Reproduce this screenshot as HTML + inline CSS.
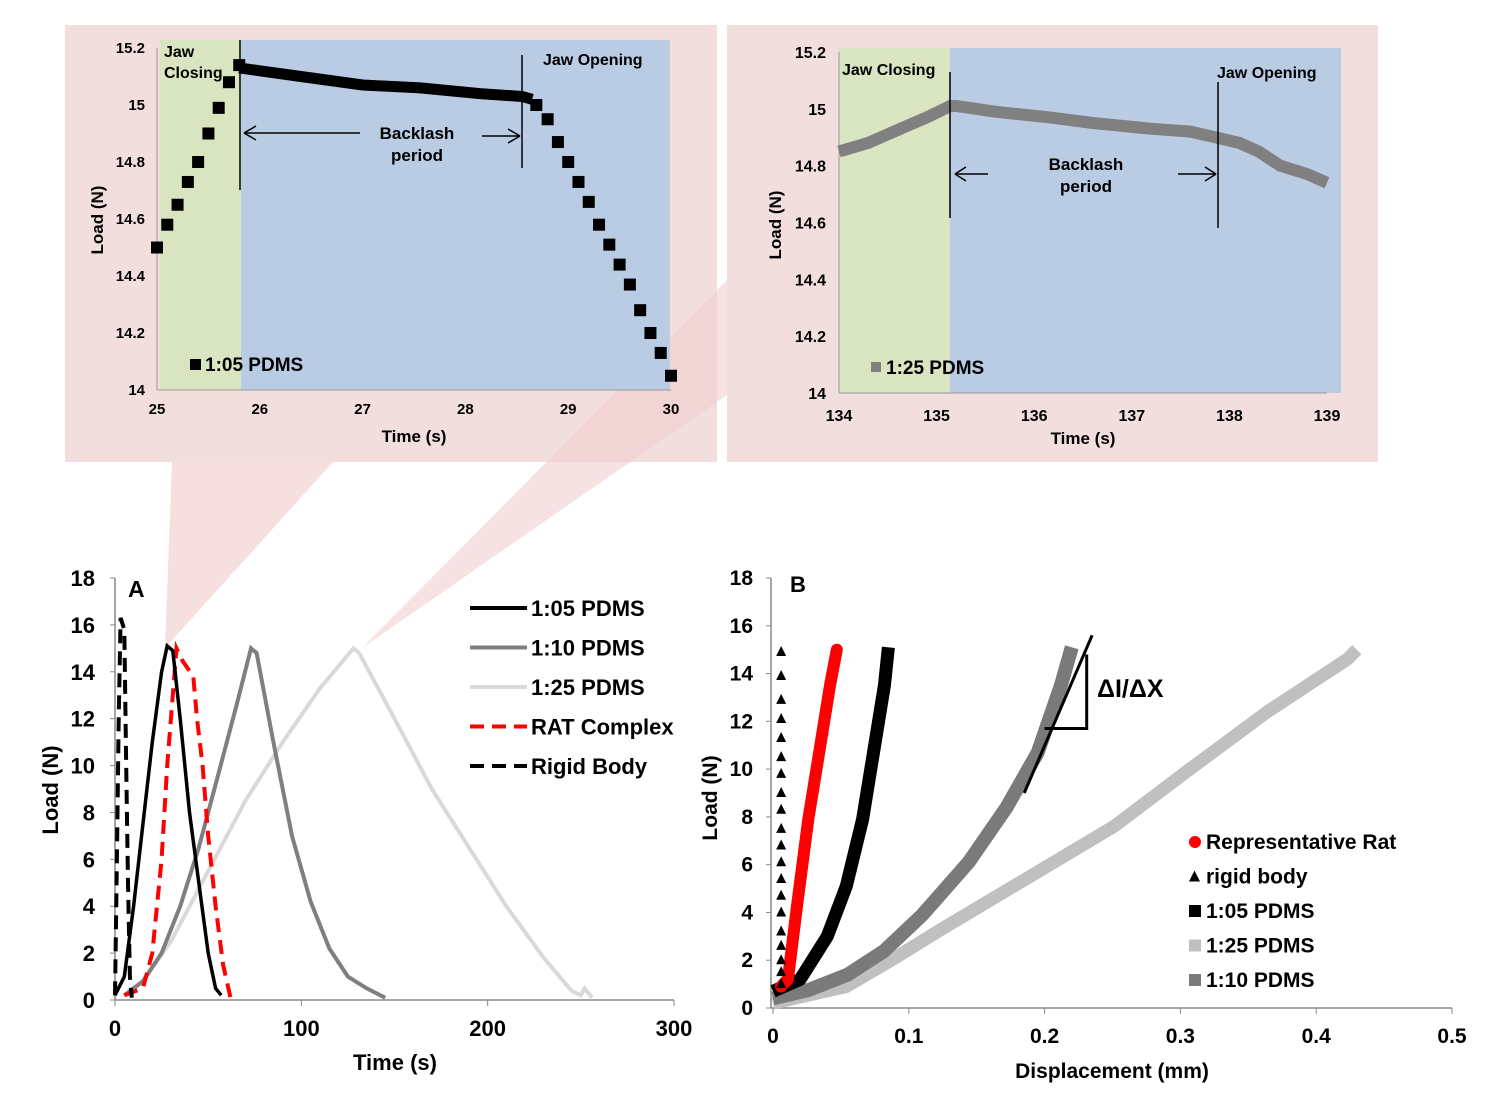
<!DOCTYPE html>
<html><head><meta charset="utf-8"><style>
html,body{margin:0;padding:0;background:#fff}
svg{display:block;font-family:"Liberation Sans",Arial,sans-serif;font-weight:bold}
</style></head><body>
<svg id="fig" width="1500" height="1097" viewBox="0 0 1500 1097" xmlns="http://www.w3.org/2000/svg">
<rect x="65" y="25" width="652" height="437" fill="#f3dede"/>
<rect x="727" y="25" width="651" height="437" fill="#f3dede"/>
<polygon points="172,462 333,462 165,648" fill="#f2d4d4" opacity="0.75"/>
<polygon points="727,280 727,395 362,648" fill="#f0cfcf" opacity="0.6"/>
<g id="g"></g>
</svg>
<script>
// ---- inset 1 data (1:05 PDMS) ----
const in1Time = [25.0,25.1,25.2,25.3,25.4,25.5,25.6,25.7,25.8,28.69,28.8,28.9,29.0,29.1,29.2,29.3,29.4,29.5,29.6,29.7,29.8,29.9,30.0];
const in1Load = [14.5,14.58,14.65,14.73,14.8,14.9,14.99,15.08,15.14,15.0,14.95,14.87,14.8,14.73,14.66,14.58,14.51,14.44,14.37,14.28,14.2,14.13,14.05];
const in1FlatTime = [25.8,26.0,26.4,27.0,27.56,28.14,28.55,28.65];
const in1FlatLoad = [15.13,15.12,15.1,15.07,15.06,15.04,15.03,15.02];
const in1XTicks = [25,26,27,28,29,30];
const in1YTicks = [14,14.2,14.4,14.6,14.8,15,15.2];
// ---- inset 2 data (1:25 PDMS) ----
const in2Time = [134.0,134.3,134.63,134.9,135.14,135.2,135.6,136.16,136.6,137.19,137.6,137.85,138.1,138.3,138.52,138.8,139.0];
const in2Load = [14.85,14.88,14.93,14.97,15.01,15.01,14.99,14.97,14.95,14.93,14.92,14.9,14.88,14.85,14.8,14.77,14.74];
const in2XTicks = [134,135,136,137,138,139];
// ---- chart A ----
const aXTicks = [0,100,200,300];
const aYTicks = [0,2,4,6,8,10,12,14,16,18];
const a105T = [0,5,10,15,20,25,28,31,35,40,45,50,54,57];
const a105L = [0.2,1,4,7.5,11,14,15.1,14.9,12,8,5,2,0.5,0.2];
const a110T = [5,15,25,35,45,55,65,73,76,85,95,105,115,125,135,145];
const a110L = [0.2,0.8,2,4,6.5,9.5,12.5,15,14.8,11,7,4.2,2.2,1,0.5,0.1];
const a125T = [5,15,30,50,70,90,110,128,131,150,170,190,210,230,245,250,252,256];
const a125L = [0.2,0.8,2.5,5.5,8.5,11,13.3,15,14.8,12,9,6.5,4,1.8,0.4,0.2,0.5,0.1];
const aRatT = [5,15,20,25,28,31,33,36,42,44,47,50,54,58,62];
const aRatL = [0.2,0.5,2,6,10,13,15,14.5,13.8,12,10,7,4,1.5,0.1];
const aRigT = [0,1,2,3,5,6,7,8,9];
const aRigL = [0.2,6,12,16.3,15.8,10,5,1,0.1];
// ---- chart B ----
const bXTicks = [0,0.1,0.2,0.3,0.4,0.5];
const bYTicks = [0,2,4,6,8,10,12,14,16,18];
const bRatX = [0.006,0.011,0.018,0.026,0.034,0.042,0.047];
const bRatY = [0.9,1.2,4.4,7.9,10.7,13.5,15];
const bRigY = [1,1.5,2,2.6,3.2,4,4.7,5.4,6.1,6.8,7.5,8.3,9,9.8,10.5,11.3,12.1,12.9,13.9,14.9];
const bRigX = 0.006;
const b105X = [0,0.02,0.04,0.054,0.066,0.074,0.082,0.085];
const b105Y = [0.7,1.2,3.0,5.1,7.9,10.7,13.5,15.1];
const b110X = [0,0.026,0.055,0.082,0.11,0.144,0.172,0.195,0.212,0.22];
const b110Y = [0.4,0.75,1.4,2.4,3.9,6.1,8.4,10.7,13.5,15.1];
const b125X = [0,0.054,0.09,0.124,0.195,0.251,0.307,0.364,0.423,0.43];
const b125Y = [0.2,0.9,2.1,3.3,5.7,7.6,10.0,12.4,14.6,15];

const NS="http://www.w3.org/2000/svg";
const G=document.getElementById('g');
function el(tag,attrs,parent,text){const e=document.createElementNS(NS,tag);for(const k in attrs)e.setAttribute(k,attrs[k]);if(text!==undefined)e.textContent=text;(parent||G).appendChild(e);return e;}
function lin(d0,d1,r0,r1){return v=>r0+(v-d0)*(r1-r0)/(d1-d0);}
function pts(xs,ys,sx,sy){return xs.map((x,i)=>sx(x).toFixed(1)+','+sy(ys[i]).toFixed(1)).join(' ');}

// ===== Inset 1 =====
{
const sx=lin(25,30,157,671), sy=lin(14,15.2,390,48);
let e;
e=el('rect',{x:160,y:40,width:81,height:350,fill:'#d9e5c0'});


e=el('rect',{x:241,y:40,width:429,height:350,fill:'#b9cce4'});


el('line',{x1:157,y1:48,x2:157,y2:390,stroke:'#999','stroke-width':1});
el('line',{x1:157,y1:390,x2:671,y2:390,stroke:'#999','stroke-width':1});
in1YTicks.forEach(v=>{e=el('text',{x:145,y:sy(v)+5,'font-size':15,'text-anchor':'end'},G,String(v));

});
in1XTicks.forEach(v=>{e=el('text',{x:sx(v),y:414,'font-size':15,'text-anchor':'middle'},G,String(v));

});
e=el('text',{x:414,y:442,'font-size':17,'text-anchor':'middle'},G,'Time (s)');


e=el('text',{x:103,y:220,'font-size':17,'text-anchor':'middle',transform:'rotate(-90 103 220)'},G,'Load (N)');


e=el('polyline',{points:pts(in1FlatTime,in1FlatLoad,sx,sy),fill:'none',stroke:'#000','stroke-width':11});


in1Time.forEach((t,i)=>{e=el('rect',{x:sx(t)-6,y:sy(in1Load[i])-6,width:12,height:12,fill:'#000'});

});
el('line',{x1:240,y1:40,x2:240,y2:190,stroke:'#000','stroke-width':1.5});
el('line',{x1:522,y1:55,x2:522,y2:168,stroke:'#000','stroke-width':1.5});
el('path',{d:'M244,133 H360 M244,133 l12,-7 M244,133 l12,7',stroke:'#000','stroke-width':1.5,fill:'none'});
el('path',{d:'M482,136 H520 M520,136 l-12,-7 M520,136 l-12,7',stroke:'#000','stroke-width':1.5,fill:'none'});
e=el('text',{x:417,y:139,'font-size':17,'text-anchor':'middle'},G,'Backlash');


el('text',{x:417,y:161,'font-size':17,'text-anchor':'middle'},G,'period');
e=el('text',{x:164,y:57,'font-size':16},G,'Jaw');


el('text',{x:164,y:78,'font-size':16},G,'Closing');
e=el('text',{x:543,y:65,'font-size':16},G,'Jaw Opening');


el('rect',{x:190,y:359,width:11,height:11,fill:'#000'});
e=el('text',{x:205,y:371,'font-size':19},G,'1:05 PDMS');


}

// ===== Inset 2 =====
{
const sx=lin(134,139,839,1327), sy=lin(14,15.2,393,52);
let e;
e=el('rect',{x:839,y:48,width:111,height:345,fill:'#d9e5c0'});


e=el('rect',{x:950,y:48,width:391,height:345,fill:'#b9cce4'});


el('line',{x1:839,y1:52,x2:839,y2:393,stroke:'#999','stroke-width':1});
el('line',{x1:839,y1:393,x2:1327,y2:393,stroke:'#999','stroke-width':1});
in1YTicks.forEach(v=>{e=el('text',{x:826,y:sy(v)+6,'font-size':16,'text-anchor':'end'},G,String(v));

});
in2XTicks.forEach(v=>{e=el('text',{x:sx(v),y:421,'font-size':16,'text-anchor':'middle'},G,String(v));

});
e=el('text',{x:1083,y:444,'font-size':17,'text-anchor':'middle'},G,'Time (s)');


e=el('text',{x:781,y:225,'font-size':17,'text-anchor':'middle',transform:'rotate(-90 781 225)'},G,'Load (N)');


e=el('polyline',{points:pts(in2Time,in2Load,sx,sy),fill:'none',stroke:'#808080','stroke-width':12});


el('line',{x1:950,y1:72,x2:950,y2:218,stroke:'#000','stroke-width':1.5});
el('line',{x1:1218,y1:82,x2:1218,y2:228,stroke:'#000','stroke-width':1.5});
el('path',{d:'M955,174 H988 M955,174 l11,-7 M955,174 l11,7',stroke:'#000','stroke-width':1.5,fill:'none'});
el('path',{d:'M1178,174 H1216 M1216,174 l-11,-7 M1216,174 l-11,7',stroke:'#000','stroke-width':1.5,fill:'none'});
e=el('text',{x:1086,y:170,'font-size':17,'text-anchor':'middle'},G,'Backlash');


el('text',{x:1086,y:192,'font-size':17,'text-anchor':'middle'},G,'period');
e=el('text',{x:842,y:75,'font-size':16},G,'Jaw Closing');


e=el('text',{x:1217,y:78,'font-size':16},G,'Jaw Opening');


el('rect',{x:871,y:362,width:10,height:10,fill:'#808080'});
e=el('text',{x:886,y:374,'font-size':19},G,'1:25 PDMS');


}

// ===== Chart A =====
{
const sx=lin(0,300,115,674), sy=lin(0,18,1000,578);
let e;
el('line',{x1:115,y1:578,x2:115,y2:1000,stroke:'#888','stroke-width':1.5});
el('line',{x1:115,y1:1000,x2:674,y2:1000,stroke:'#888','stroke-width':1.5});
aYTicks.forEach(v=>{el('line',{x1:110,y1:sy(v),x2:115,y2:sy(v),stroke:'#888'});
e=el('text',{x:95,y:sy(v)+8,'font-size':22,'text-anchor':'end'},G,String(v));

});
aXTicks.forEach(v=>{el('line',{x1:sx(v),y1:1000,x2:sx(v),y2:1006,stroke:'#888'});
e=el('text',{x:sx(v),y:1036,'font-size':22,'text-anchor':'middle'},G,String(v));

});
e=el('text',{x:395,y:1070,'font-size':22,'text-anchor':'middle'},G,'Time (s)');


e=el('text',{x:58,y:790,'font-size':22,'text-anchor':'middle',transform:'rotate(-90 58 790)'},G,'Load (N)');


e=el('text',{x:128,y:597,'font-size':23},G,'A');


e=el('polyline',{points:pts(a125T,a125L,sx,sy),fill:'none',stroke:'#d9d9d9','stroke-width':4});


e=el('polyline',{points:pts(a110T,a110L,sx,sy),fill:'none',stroke:'#7f7f7f','stroke-width':4});


e=el('polyline',{points:pts(aRatT,aRatL,sx,sy),fill:'none',stroke:'#ff0000','stroke-width':4,'stroke-dasharray':'14,8'});


e=el('polyline',{points:pts(a105T,a105L,sx,sy),fill:'none',stroke:'#000','stroke-width':3.5});


e=el('polyline',{points:pts(aRigT,aRigL,sx,sy),fill:'none',stroke:'#000','stroke-width':4,'stroke-dasharray':'14,8'});


const leg=[['1:05 PDMS','#000',''],['1:10 PDMS','#7f7f7f',''],['1:25 PDMS','#d9d9d9',''],['RAT Complex','#ff0000','14,8'],['Rigid Body','#000','14,8']];
leg.forEach((l,i)=>{const y=608+i*39.5;
el('line',{x1:470,y1:y,x2:527,y2:y,stroke:l[1],'stroke-width':4,'stroke-dasharray':l[2]||'none'});
e=el('text',{x:531,y:y+8,'font-size':22},G,l[0]);

});
}

// ===== Chart B =====
{
const sx=lin(0,0.5,773,1452), sy=lin(0,18,1008,578);
let e;
el('line',{x1:771,y1:578,x2:771,y2:1008,stroke:'#888','stroke-width':1.5});
el('line',{x1:771,y1:1008,x2:1452,y2:1008,stroke:'#888','stroke-width':1.5});
bYTicks.forEach(v=>{el('line',{x1:766,y1:sy(v),x2:771,y2:sy(v),stroke:'#888'});
e=el('text',{x:753,y:sy(v)+7,'font-size':21,'text-anchor':'end'},G,String(v));

});
bXTicks.forEach(v=>{el('line',{x1:sx(v),y1:1008,x2:sx(v),y2:1014,stroke:'#888'});
e=el('text',{x:sx(v),y:1043,'font-size':21,'text-anchor':'middle'},G,String(v));

});
e=el('text',{x:1112,y:1078,'font-size':21,'text-anchor':'middle'},G,'Displacement (mm)');


e=el('text',{x:717,y:798,'font-size':21,'text-anchor':'middle',transform:'rotate(-90 717 798)'},G,'Load (N)');


e=el('text',{x:790,y:592,'font-size':22},G,'B');


e=el('polyline',{points:pts(b125X,b125Y,sx,sy),fill:'none',stroke:'#c0c0c0','stroke-width':13,'stroke-linejoin':'round'});


e=el('polyline',{points:pts(b110X,b110Y,sx,sy),fill:'none',stroke:'#7a7a7a','stroke-width':14,'stroke-linejoin':'round'});


e=el('polyline',{points:pts(b105X,b105Y,sx,sy),fill:'none',stroke:'#000','stroke-width':13,'stroke-linejoin':'round'});


e=el('polyline',{points:pts(bRatX,bRatY,sx,sy),fill:'none',stroke:'#ff0000','stroke-width':12,'stroke-linecap':'round','stroke-linejoin':'round'});


bRigY.forEach(v=>{const x=sx(bRigX),y=sy(v);
e=el('polygon',{points:`${x-5},${y+4} ${x+5},${y+4} ${x},${y-6}`,fill:'#000'});

});
el('line',{x1:sx(0.185),y1:sy(9),x2:sx(0.235),y2:sy(15.6),stroke:'#000','stroke-width':3});
el('path',{d:`M${sx(0.2)},${sy(11.7)} H${sx(0.231)} V${sy(14.8)}`,stroke:'#000','stroke-width':3,fill:'none'});
e=el('text',{x:1097,y:697,'font-size':25},G,'ΔI/ΔX');


const leg=[['Representative Rat','#ff0000','c'],['rigid body','#000','t'],['1:05 PDMS','#000','s'],['1:25 PDMS','#c0c0c0','s'],['1:10 PDMS','#7a7a7a','s']];
leg.forEach((l,i)=>{const y=842+i*34.5;
if(l[2]==='c')el('circle',{cx:1195,cy:y,r:6,fill:l[1]});
else if(l[2]==='t')el('polygon',{points:`${1189},${y+5} ${1200},${y+5} ${1194.5},${y-6}`,fill:l[1]});
else el('rect',{x:1189,y:y-6,width:12,height:12,fill:l[1]});
e=el('text',{x:1206,y:y+7,'font-size':21},G,l[0]);

});
}
</script>
</body></html>
